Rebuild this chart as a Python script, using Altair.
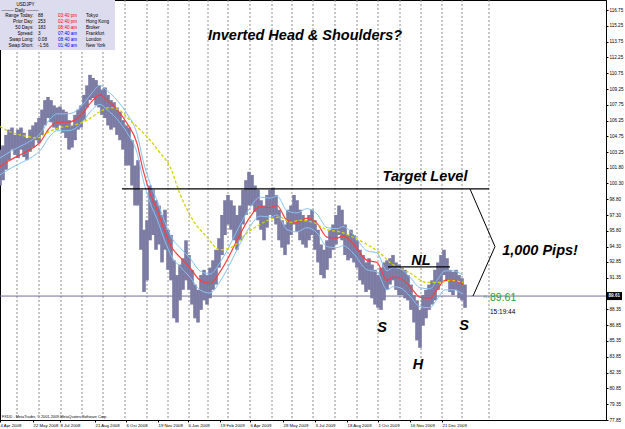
import json
import altair as alt
import pandas as pd

# ---------------- data ----------------
# one entry every 3 daily bars: bar index (1 bar ~ 1 trading day), high, low
bar_x = list(range(0, 466, 3))
bar_high = [103.5, 103.9, 104.9, 105.4, 105.6, 104.9, 105.4, 105.6, 105.1, 104.6,
            105.4, 105.8, 106.1, 106.5, 107.3, 108.2, 108.5, 108.2, 107.7, 107.5,
            107.6, 107.3, 107.1, 106.3, 105.8, 106.8, 107.3, 107.7, 108.7, 109.6,
            110.6, 110.3, 110.1, 109.6, 109.2, 109.4, 108.7, 108.2, 108.0, 107.5,
            107.1, 106.3, 105.8, 105.6, 104.4, 102.0, 102.5, 99.7, 95.9, 96.8,
            100.1, 99.7, 98.7, 98.2, 97.3, 97.8, 95.9, 95.4, 93.0, 91.6,
            92.6, 93.2, 94.9, 93.5, 92.1, 90.7, 90.2, 91.6, 92.1, 91.6,
            92.3, 93.0, 94.0, 95.1, 97.3, 98.7, 99.2, 98.7, 98.2, 97.3,
            98.2, 99.7, 100.6, 101.4, 101.1, 100.1, 99.7, 98.7, 98.2, 99.2,
            99.7, 99.9, 99.2, 97.8, 96.8, 96.4, 97.8, 98.2, 99.2, 98.7,
            97.8, 97.3, 96.8, 97.3, 97.8, 96.8, 95.9, 94.5, 94.0, 94.9,
            95.9, 96.4, 97.3, 98.2, 97.8, 96.4, 95.4, 95.9, 95.4, 94.9,
            94.0, 93.5, 92.8, 93.2, 92.6, 92.1, 91.6, 92.3, 92.8, 93.0,
            93.2, 93.5, 92.8, 92.6, 92.3, 92.1, 91.6, 90.7, 89.7, 89.2,
            88.3, 89.7, 90.2, 90.7, 91.1, 92.1, 92.8, 93.5, 94.0, 93.2,
            92.1, 91.9, 92.1, 91.6, 91.3, 90.7]
bar_low = [100.1, 100.6, 101.6, 102.5, 103.5, 103.0, 102.7, 103.5, 102.8, 102.5,
           103.3, 103.7, 104.4, 104.1, 104.9, 105.8, 106.5, 106.1, 105.6, 105.4,
           105.8, 105.1, 104.6, 103.5, 103.7, 104.4, 105.4, 105.6, 106.3, 107.5,
           108.2, 108.4, 107.7, 107.5, 106.8, 106.5, 105.8, 105.4, 105.6, 104.9,
           104.4, 103.5, 102.0, 102.0, 100.1, 98.2, 98.2, 94.0, 90.0, 91.1,
           94.9, 95.4, 94.0, 94.5, 92.8, 94.0, 92.1, 91.1, 87.5, 87.1,
           89.2, 90.2, 91.1, 90.2, 88.8, 87.5, 87.1, 88.3, 89.2, 88.8,
           89.4, 90.2, 90.7, 92.3, 93.5, 95.4, 96.4, 95.9, 94.9, 94.0,
           94.9, 96.4, 97.3, 98.2, 98.2, 97.6, 96.8, 95.9, 94.9, 96.1,
           97.3, 97.0, 96.4, 94.9, 94.2, 93.5, 94.5, 95.4, 96.4, 95.7,
           94.9, 94.5, 94.2, 94.9, 95.4, 94.0, 92.8, 91.6, 91.3, 92.1,
           93.2, 94.0, 94.5, 95.4, 94.9, 93.5, 93.0, 93.2, 92.8, 92.3,
           91.1, 90.7, 90.0, 90.2, 89.4, 88.8, 88.5, 88.3, 89.2, 90.2,
           90.7, 91.1, 90.2, 89.7, 89.7, 89.4, 89.2, 88.3, 87.1, 85.4,
           84.7, 86.8, 87.5, 88.3, 88.8, 89.2, 90.2, 90.9, 91.6, 91.1,
           90.0, 89.7, 90.2, 89.4, 89.2, 88.5]

# fast moving average (red) and its envelope (light blue)
ma_x = [0, 10, 20, 30, 40, 50, 57, 67, 75, 83, 93, 100, 107, 117, 127, 137, 143, 150, 157, 165,
        172, 180, 190, 200, 210, 220, 228, 237, 250, 260, 270, 277, 287, 297, 307, 317, 327, 337,
        343, 353, 367, 377, 387, 393, 400, 410, 420, 430, 437, 445, 453, 463]
ma_red = [101.9, 102.5, 103.0, 103.5, 104.2, 105.6, 106.1, 106.1, 106.3, 107.0, 108.2, 108.7, 108.2,
          107.3, 106.0, 104.1, 101.6, 99.4, 97.8, 95.7, 94.2, 93.3, 92.3, 91.1, 90.8, 91.9, 93.2,
          94.9, 97.1, 98.1, 98.0, 98.2, 96.8, 96.6, 97.0, 96.5, 95.2, 95.1, 95.3, 94.6, 93.0, 92.8,
          91.1, 91.4, 91.3, 90.5, 89.5, 89.4, 90.2, 91.1, 91.1, 90.7]
ma_upper = [102.7, 103.3, 103.8, 104.3, 105.0, 106.4, 106.9, 106.9, 107.1, 107.8, 109.0, 109.6, 109.1,
            108.2, 106.9, 105.0, 102.5, 100.3, 98.7, 96.6, 95.1, 94.2, 93.2, 92.0, 91.7, 92.8, 94.1,
            95.8, 98.0, 99.0, 98.9, 99.1, 97.7, 97.5, 97.9, 97.4, 96.1, 96.0, 96.2, 95.5, 93.9, 93.7,
            92.0, 92.3, 92.2, 91.4, 90.4, 90.3, 91.1, 92.0, 92.0, 91.6]
ma_lower = [101.1, 101.7, 102.2, 102.7, 103.4, 104.8, 105.3, 105.3, 105.5, 106.2, 107.4, 107.8, 107.3,
            106.4, 105.1, 103.2, 100.7, 98.5, 96.9, 94.8, 93.3, 92.4, 91.4, 90.2, 89.9, 91.0, 92.3,
            94.0, 96.2, 97.2, 97.1, 97.3, 95.9, 95.7, 96.1, 95.6, 94.3, 94.2, 94.4, 93.7, 92.1, 91.9,
            90.2, 90.5, 90.4, 89.6, 88.6, 88.5, 89.3, 90.2, 90.2, 89.8]

# slow moving average (yellow dashed)
slow_x = [0, 10, 20, 30, 37, 47, 60, 73, 87, 100, 110, 120, 130, 140, 150, 160, 170, 180, 193, 207,
          220, 233, 247, 260, 273, 280, 290, 300, 313, 327, 340, 353, 367, 380, 390, 410, 427, 440, 450, 463]
slow_ma = [105.7, 105.2, 104.9, 104.7, 104.6, 105.1, 105.6, 105.8, 106.3, 107.1, 107.5, 107.2, 106.3,
           105.4, 104.4, 103.2, 101.9, 99.3, 96.8, 95.2, 94.0, 94.3, 95.6, 96.4, 97.0, 97.1, 96.6,
           96.8, 96.6, 95.9, 95.7, 95.2, 94.5, 93.7, 92.8, 91.8, 90.9, 90.9, 91.1, 90.9]

# monthly period separators (bar index)
month_sep_x = [17, 39, 61, 82, 103, 125, 147, 168, 189, 208, 228, 250, 272, 292, 313, 335, 357,
               378, 400, 421, 442, 462, 489]

date_tick_x = [0, 33, 60, 95, 126, 158, 188, 220, 250, 283, 315, 347, 378, 410, 442]
date_tick_labels = ["4 Apr 2008", "22 May 2008", "8 Jul 2008", "21 Aug 2008", "6 Oct 2008",
                    "19 Nov 2008", "6 Jan 2009", "19 Feb 2009", "6 Apr 2009", "28 May 2009",
                    "3 Jul 2009", "18 Aug 2009", "1 Oct 2009", "16 Nov 2009", "21 Dec 2009"]
# the 89.85 level is hidden under the current-price marker
price_ticks = [116.75, 115.25, 113.75, 112.25, 110.75, 109.25, 107.75, 106.25, 104.75, 103.25,
               101.80, 100.30, 98.80, 97.30, 95.80, 94.30, 92.85, 91.35, 88.35, 86.85,
               85.35, 83.85, 82.35, 80.85, 79.35, 77.85]

last_price = 89.61
last_time = "15:19:44"
target_level = 99.77
target_x = [122, 489]
neckline = 92.37
neck_x = [388, 450]
bracket_x = [470, 495, 473]
bracket_p = [99.77, 94.3, 89.61]

notes_text = ["Inverted Head & Shoulders?", "Target Level", "1,000 Pips!", "NL", "S", "H", "S"]
notes_x = [305, 425, 540, 421, 382, 418, 464]
notes_p = [114.28, 100.91, 93.89, 92.94, 86.58, 83.07, 86.77]

panel_symbol = "USDJPY"
panel_period = "-------- Daily --------"
panel_labels = ["Range Today:", "Prior Day:", "50 Days:", "Spread:", "Swap Long:", "Swap Short:"]
panel_values = ["88", "253", "183", "3", "0.08", "-1.56"]
panel_times = ["03:40 pm", "02:40 pm", "08:40 am", "07:40 am", "08:40 am", "01:40 am"]
panel_cities = ["Tokyo", "Hong Kong", "Broker", "Frankfurt", "London", "New York"]
copyright_text = "FXDD - MetaTrader, \u00a9 2001-2009 MetaQuotes Software Corp."

# ---------------- chart ----------------
W, H = 606, 420
FONT = "Liberation Sans"
xs = alt.Scale(domain=[0, W], nice=False, zero=False)
ys = alt.Scale(domain=[77.85, 117.70], nice=False, zero=False)

label_expr = ("[" + ",".join("'%s'" % s for s in date_tick_labels) + "][indexof("
              + json.dumps(date_tick_x) + ", datum.value)]")

x_axis = alt.Axis(orient="bottom", values=date_tick_x, labelExpr=label_expr, title=None, grid=False,
                  labelAlign="left", labelBaseline="top", labelFontSize=4.3, labelFont=FONT,
                  labelColor="black", labelPadding=1.2, labelFlush=False, labelOverlap=False,
                  labelBound=False, tickSize=2, tickColor="black", domainColor="black")
y_axis = alt.Axis(orient="right", values=price_ticks, format=".2f", title=None, grid=False,
                  labelFontSize=4.6, labelFont=FONT, labelColor="black", labelPadding=1,
                  labelFlush=False, labelOverlap=False, labelBound=False, tickSize=2,
                  tickColor="black", domainColor="black")


def X(f):
    return alt.X(f, type="quantitative", scale=xs, axis=x_axis)


def Y(f):
    return alt.Y(f, type="quantitative", scale=ys, axis=y_axis)


one = pd.DataFrame({"k": [0]})

grid = alt.Chart(pd.DataFrame({"bar": month_sep_x})).mark_rule(
    color="#8c8c8c", strokeDash=[2, 2], strokeWidth=1).encode(x=X("bar"))

last_line = alt.Chart(pd.DataFrame({"p": [last_price]})).mark_rule(
    color="#6e6e9e", strokeWidth=1).encode(y=Y("p"))

bars_df = pd.DataFrame({"bar": bar_x, "high": bar_high, "low": bar_low})
bars = alt.Chart(bars_df).mark_rule(color="#7b7ba4", strokeWidth=3.6, strokeCap="butt").encode(
    x=X("bar"), y=Y("low"), y2="high:Q")

ma_df = pd.DataFrame({"bar": ma_x, "red": ma_red, "upper": ma_upper, "lower": ma_lower})
env = alt.Chart(ma_df).transform_fold(["upper", "lower"], as_=["band", "p"]).mark_line(
    color="#86c2f4", strokeWidth=1, interpolate="monotone").encode(
    x=X("bar"), y=Y("p"), detail="band:N")
red = alt.Chart(ma_df).mark_line(color="#ff3c3c", strokeWidth=1.2, interpolate="monotone").encode(
    x=X("bar"), y=Y("red"))
slow = alt.Chart(pd.DataFrame({"bar": slow_x, "p": slow_ma})).mark_line(
    color="#d2d200", strokeWidth=1.3, strokeDash=[3, 2], interpolate="monotone").encode(
    x=X("bar"), y=Y("p"))

hlines_df = pd.DataFrame({"x0": [target_x[0], neck_x[0]], "x1": [target_x[1], neck_x[1]],
                          "p": [target_level, neckline]})
hlines = alt.Chart(hlines_df).mark_rule(color="black", strokeWidth=1.2).encode(
    x=X("x0"), x2="x1:Q", y=Y("p"))
bracket = alt.Chart(pd.DataFrame({"bar": bracket_x, "p": bracket_p, "o": [0, 1, 2]})).mark_line(
    color="black", strokeWidth=1).encode(x=X("bar"), y=Y("p"), order="o:Q")

notes = alt.Chart(pd.DataFrame({"bar": notes_x, "p": notes_p, "t": notes_text})).mark_text(
    font=FONT, fontSize=14.5, fontWeight="bold", fontStyle="italic", color="black",
    align="center", baseline="middle").encode(x=X("bar"), y=Y("p"), text="t:N")

lp_df = pd.DataFrame({"p": [last_price], "t": ["%.2f" % last_price], "tm": [last_time]})
caret = alt.Chart(lp_df).mark_text(font=FONT, fontSize=8, color="#2e9e2e", align="center",
                                   baseline="middle", dy=2).encode(
    x=alt.value(485), y=Y("p"), text=alt.value("^"))
lp_text = alt.Chart(lp_df).mark_text(font=FONT, fontSize=10.5, color="#2e9e2e", align="left",
                                     baseline="middle", dy=2).encode(
    x=alt.value(490), y=Y("p"), text="t:N")
lp_time = alt.Chart(lp_df).mark_text(font=FONT, fontSize=6.5, color="black", align="left",
                                     baseline="middle", dy=16).encode(
    x=alt.value(490), y=Y("p"), text="tm:N")
lp_box = alt.Chart(lp_df).mark_rule(color="black", strokeWidth=8).encode(
    x=alt.value(607), x2=alt.value(622), y=Y("p"))
lp_box_text = alt.Chart(lp_df).mark_text(font=FONT, fontSize=4.6, fontWeight="bold", color="white",
                                         align="left", baseline="middle").encode(
    x=alt.value(608.5), y=Y("p"), text="t:N")

panel_bg = alt.Chart(one).mark_rect(color="#dcdcee").encode(
    x=alt.value(0), x2=alt.value(115), y=alt.value(0), y2=alt.value(50))


def ptext(txt, x, y, align, color="black", size=4.6):
    return alt.Chart(one).mark_text(font=FONT, fontSize=size, color=color, align=align,
                                    baseline="top", lineBreak="\n", lineHeight=6).encode(
        x=alt.value(x), y=alt.value(y), text=alt.value(txt))


panel = [
    ptext(panel_symbol, 25.5, 1.5, "center"),
    ptext(panel_period, 20, 7.6, "center"),
    ptext("\n".join(panel_labels), 33.5, 13.4, "right"),
    ptext("\n".join(panel_values), 38, 13.4, "left"),
    ptext("\n".join(panel_times[:3]), 58, 13.4, "left", color="#ff0000"),
    ptext("\n".join(panel_times[3:]), 58, 31.4, "left", color="#0000ff"),
    ptext("\n".join(panel_cities), 86, 13.4, "left"),
]

copyright_mark = alt.Chart(one).mark_text(font=FONT, fontSize=3.8, color="black", align="left",
                                          baseline="middle").encode(
    x=alt.value(2), y=alt.value(416.5), text=alt.value(copyright_text))

chart = alt.layer(
    grid, panel_bg, *panel, last_line, bars, env, red, slow, hlines, bracket, notes,
    caret, lp_text, lp_time, lp_box, lp_box_text, copyright_mark
).properties(
    width=W, height=H,
    autosize=alt.AutoSizeParams(type="none"),
    padding={"left": 0, "top": 0, "right": 19, "bottom": 9},
    background="white",
).configure_view(stroke="black", strokeWidth=1)

chart.save("out.html", embed_options={"renderer": "svg", "actions": False})
